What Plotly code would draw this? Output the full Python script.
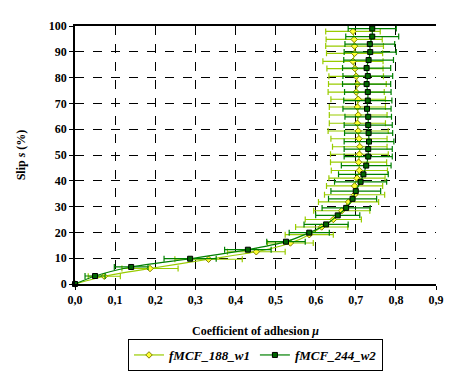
import plotly.graph_objects as go

# Series 1: fMCF_188_w1 (diamonds)
s1_mu = [0, 0.073, 0.187, 0.333, 0.452, 0.537, 0.584, 0.615, 0.644, 0.665, 0.682,
         0.697, 0.697, 0.703, 0.709, 0.707, 0.709, 0.710, 0.708, 0.706, 0.704, 0.706,
         0.704, 0.706, 0.701, 0.704, 0.701, 0.698, 0.693, 0.697, 0.697, 0.696, 0.693]
s1_slip = [0, 3.0, 6.0, 9.6, 12.5, 15.9, 19.1, 22.1, 25.0, 28.4, 31.8, 34.6, 38.0,
           41.0, 44.0, 47.2, 50.3, 53.2, 56.3, 59.3, 62.3, 65.5, 68.6, 71.6, 74.4,
           77.5, 80.5, 83.5, 86.3, 89.4, 92.2, 94.8, 97.9]
s1_err = [0, 0.04, 0.07, 0.084, 0.072, 0.057, 0.06, 0.065, 0.07, 0.07, 0.075, 0.075,
          0.07, 0.07, 0.07, 0.07, 0.072, 0.068, 0.07, 0.075, 0.07, 0.072, 0.07, 0.068,
          0.07, 0.072, 0.068, 0.07, 0.075, 0.07, 0.072, 0.07, 0.068]

# Series 2: fMCF_244_w2 (squares)
s2_mu = [0, 0.05, 0.14, 0.287, 0.431, 0.526, 0.584, 0.626, 0.655, 0.676, 0.692,
         0.700, 0.712, 0.719, 0.726, 0.731, 0.731, 0.733, 0.732, 0.731, 0.731, 0.728,
         0.730, 0.730, 0.727, 0.730, 0.727, 0.732, 0.736, 0.735, 0.741, 0.741]
s2_slip = [0, 3.1, 6.6, 9.8, 13.3, 16.4, 19.9, 23.1, 26.6, 29.5, 33.0, 36.0, 39.6,
           42.5, 45.9, 49.4, 52.3, 55.2, 58.5, 61.6, 64.8, 67.9, 71.1, 74.4, 77.5,
           80.6, 83.7, 86.8, 89.9, 93.0, 95.9, 99.0]
s2_err = [0, 0.025, 0.042, 0.065, 0.058, 0.048, 0.05, 0.055, 0.055, 0.06, 0.06, 0.062,
          0.065, 0.062, 0.062, 0.06, 0.06, 0.062, 0.06, 0.06, 0.058, 0.06, 0.06, 0.058,
          0.06, 0.062, 0.06, 0.062, 0.065, 0.062, 0.066, 0.06]

x_ticks = [0, 0.1, 0.2, 0.3, 0.4, 0.5, 0.6, 0.7, 0.8, 0.9]
y_ticks = [0, 10, 20, 30, 40, 50, 60, 70, 80, 90, 100]

FONT = "Liberation Serif"
C1 = "#99CC00"
C2 = "#008000"

# page body has an 8px default margin, so the figure is sized/offset to compensate
W, H = 456, 378

fig = go.Figure()
fig.add_trace(go.Scatter(
    x=s1_mu, y=s1_slip, name="fMCF_188_w1", mode="lines+markers",
    line=dict(color=C1, width=1.2, shape="spline", smoothing=0.6),
    marker=dict(symbol="diamond", size=5, color="#FFFF33", line=dict(color="#808000", width=1)),
    error_x=dict(type="data", array=s1_err, symmetric=True, color=C1, thickness=1.2, width=3),
    cliponaxis=False,
))
fig.add_trace(go.Scatter(
    x=s2_mu, y=s2_slip, name="fMCF_244_w2", mode="lines+markers",
    line=dict(color=C2, width=1.2, shape="spline", smoothing=0.6),
    marker=dict(symbol="square", size=5, color="#006600", line=dict(color="#000000", width=1)),
    error_x=dict(type="data", array=s2_err, symmetric=True, color=C2, thickness=1.2, width=3),
    cliponaxis=False,
))

fig.update_layout(
    width=W, height=H,
    margin=dict(l=67, r=28, t=18, b=102, autoexpand=False),
    paper_bgcolor="white", plot_bgcolor="white",
    separators=", ",
    font=dict(family=FONT, size=12, color="black"),
    showlegend=True,
    legend=dict(
        orientation="h", x=0.5, xanchor="center",
        yref="container", y=1 - 331 / H, yanchor="top",
        bordercolor="black", borderwidth=1,
        font=dict(family=FONT, size=13, weight="bold", style="italic"),
        itemwidth=30, tracegroupgap=0,
    ),
)
fig.update_xaxes(
    range=[0, 0.9], tickvals=x_ticks, tickformat=".1f", automargin=True,
    showgrid=True, gridcolor="black", griddash="dash", gridwidth=1,
    showline=True, linecolor="black", linewidth=1.5, mirror=True,
    ticks="outside", ticklen=4, tickcolor="black",
    tickfont=dict(family=FONT, size=12, weight="bold"),
    zeroline=False,
    title=dict(text="Coefficient of adhesion <i>μ</i>", standoff=20,
               font=dict(family=FONT, size=12, weight="bold")),
)
fig.update_yaxes(
    range=[0, 100], tickvals=y_ticks, automargin=True,
    showgrid=True, gridcolor="black", griddash="dash", gridwidth=1,
    showline=True, linecolor="black", linewidth=1.5,
    ticks="outside", ticklen=4, tickcolor="black",
    tickfont=dict(family=FONT, size=12, weight="bold"),
    zeroline=False,
    title=dict(text="Slip <i>s</i> (%)", standoff=21,
               font=dict(family=FONT, size=12, weight="bold")),
)

fig.write_html("out.html")
